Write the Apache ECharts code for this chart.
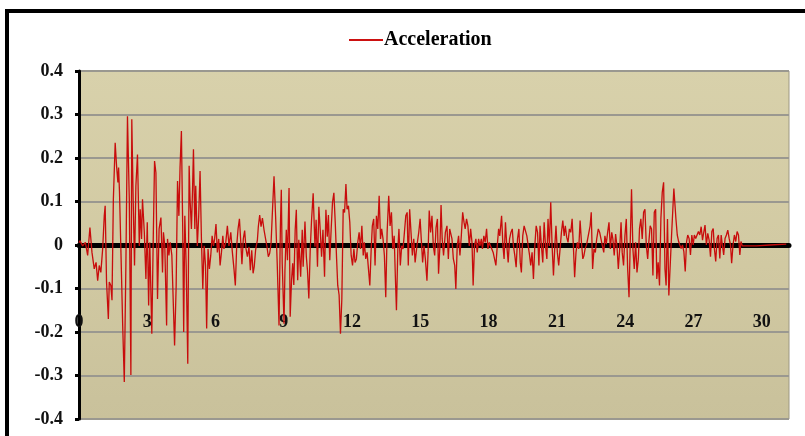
<!DOCTYPE html>
<html>
<head>
<meta charset="utf-8">
<script src="https://cdn.jsdelivr.net/npm/echarts@6/dist/echarts.min.js"></script>
<style>
html,body{margin:0;padding:0;background:#fff;overflow:hidden;}
#chart{width:805px;height:436px;}
</style>
</head>
<body>
<div id="chart"></div>
<script>
// Time (s) of each sampled point
const TIME = [
0.00,0.04,0.16,0.28,0.38,0.48,0.57,0.67,0.75,0.82,0.89,0.96,1.04,1.11,1.15,1.21,1.29,1.33,1.40,1.45,
1.51,1.59,1.65,1.71,1.74,1.78,1.84,1.92,1.99,2.06,2.13,2.21,2.28,2.32,2.38,2.44,2.50,2.57,2.65,2.69,
2.75,2.79,2.87,2.94,3.00,3.06,3.11,3.20,3.26,3.32,3.38,3.45,3.52,3.60,
3.67,3.71,3.77,3.85,3.89,3.95,4.01,4.08,4.12,4.20,4.27,4.33,4.39,4.44,4.50,4.56,4.60,4.65,4.71,4.78,
4.84,4.88,4.94,4.99,5.03,5.09,5.13,5.20,5.26,5.32,5.38,5.44,5.50,5.56,5.61,5.67,5.73,5.79,5.85,5.91,
5.96,6.02,6.08,6.14,6.20,6.26,6.32,6.37,6.45,6.52,6.59,6.67,6.74,6.81,6.87,6.93,6.99,7.05,7.11,7.16,
7.22,7.28,7.34,
7.40,7.47,7.53,7.59,7.65,7.70,7.76,7.84,7.88,7.94,8.00,8.06,8.13,8.20,8.26,8.32,8.38,8.44,8.49,8.57,
8.64,8.71,8.79,8.85,8.89,8.93,9.01,9.05,9.11,9.16,9.23,9.28,9.34,9.39,9.44,9.50,9.55,9.61,9.66,9.74,
9.81,9.85,9.93,9.99,10.04,10.10,10.16,10.22,10.29,10.37,10.42,10.48,10.54,10.60,10.66,10.72,10.79,10.85,10.91,10.96,
11.02,11.08,11.14,11.20,
11.26,11.32,11.37,11.43,11.49,11.55,11.61,11.67,11.73,11.78,11.84,11.90,11.96,12.02,12.08,12.13,12.19,12.25,12.31,12.37,
12.43,12.49,12.54,12.60,12.66,12.72,12.78,12.84,12.89,12.95,13.01,13.07,13.13,13.19,13.25,13.30,13.36,13.42,13.48,13.54,
13.61,13.67,13.73,13.79,13.85,13.90,13.95,14.01,14.06,14.12,14.18,14.24,14.30,14.36,14.42,14.47,14.53,14.59,14.65,14.71,
14.77,
14.85,14.93,14.99,15.04,15.10,15.16,15.22,15.29,15.34,15.39,15.45,15.51,15.57,15.63,15.69,15.75,15.80,15.86,15.91,15.96,
16.02,16.10,16.17,16.23,16.29,16.35,16.39,16.45,16.51,16.56,16.62,16.68,16.74,16.80,16.86,16.92,16.97,17.03,17.09,17.15,
17.21,17.27,17.32,17.38,17.44,17.50,17.56,17.62,17.68,17.73,17.79,17.85,17.91,17.97,18.03,18.08,18.14,18.20,18.26,18.32,
18.38,18.44,18.49,
18.57,18.63,18.68,18.74,18.80,18.86,18.92,18.98,19.04,19.09,19.15,19.21,19.27,19.33,19.39,19.44,19.50,19.56,19.62,19.68,
19.74,19.80,19.85,19.91,19.97,20.03,20.09,20.15,20.21,20.26,20.32,20.38,20.44,20.50,20.56,20.61,20.67,20.73,20.79,20.85,
20.91,20.96,21.02,21.08,21.14,21.20,21.26,21.32,21.37,21.43,21.49,21.55,21.61,21.67,21.73,21.78,21.84,21.90,21.96,22.02,
22.08,22.14,22.19,
22.24,22.31,22.38,22.46,22.51,22.57,22.63,22.69,22.75,22.82,22.88,22.94,23.00,23.06,23.11,23.17,23.23,23.29,23.35,23.41,
23.46,23.52,23.58,23.64,23.70,23.76,23.82,23.87,23.93,23.99,24.05,24.11,24.17,24.22,24.28,24.34,24.40,24.46,24.52,24.58,
24.63,24.69,24.75,24.81,24.87,24.93,24.99,25.04,25.10,25.16,25.22,25.28,25.34,25.39,25.45,25.51,25.57,25.63,25.69,25.75,
25.80,25.86,25.92,
26.04,26.14,26.23,26.29,26.35,26.40,26.46,26.52,26.58,26.64,26.70,26.75,26.81,26.87,26.93,26.99,27.04,27.10,27.16,27.22,
27.28,27.34,27.40,27.46,27.51,27.57,27.63,27.69,27.75,27.81,27.87,27.92,27.98,28.04,28.10,28.16,28.22,28.27,28.33,28.39,
28.45,28.51,28.57,28.63,28.68,28.74,28.80,28.86,28.92,28.98,29.04,29.09,29.15,29.77,30.35,31.08
];
// Acceleration (g) at each time above
const ACCEL = [
0.005,0.010,-0.002,0.006,-0.024,0.040,-0.017,-0.055,-0.040,-0.082,-0.047,-0.063,-0.009,0.067,0.090,-0.085,-0.170,-0.085,-0.093,-0.127,
0.105,0.235,0.182,0.144,0.178,0.121,-0.009,-0.185,-0.315,-0.047,0.296,0.105,-0.299,0.289,0.105,-0.047,0.136,0.208,-0.002,0.082,
0.014,0.105,0.029,-0.078,0.052,-0.139,0.006,-0.204,0.006,0.193,0.166,-0.124,0.037,0.063,
-0.063,0.029,-0.002,-0.185,0.014,-0.024,0.006,-0.024,-0.093,-0.231,-0.093,0.147,0.067,0.178,0.262,0.029,-0.200,0.067,-0.047,-0.273,
0.182,0.105,0.037,0.128,0.220,0.037,0.136,-0.002,0.067,0.170,0.014,-0.101,-0.002,-0.047,-0.192,-0.009,-0.055,-0.024,0.021,-0.002,
0.014,0.048,-0.017,0.014,-0.047,-0.017,0.021,-0.009,0.006,0.044,-0.002,0.029,-0.017,-0.055,-0.093,-0.002,0.037,0.060,0.006,-0.044,
0.014,0.033,-0.009,
-0.027,-0.004,-0.058,-0.012,-0.065,-0.050,-0.012,0.012,0.042,0.069,0.042,0.062,0.035,0.035,-0.004,-0.027,-0.019,0.004,0.065,0.158,
0.065,-0.042,-0.185,0.042,0.127,-0.042,-0.181,-0.058,0.035,-0.035,0.131,-0.165,-0.081,-0.042,-0.092,0.035,0.081,-0.081,0.012,-0.073,
0.035,-0.050,0.054,-0.027,-0.058,-0.123,-0.012,0.058,0.119,-0.004,0.058,-0.050,0.088,0.035,-0.027,0.035,-0.073,0.081,0.019,0.069,
-0.035,0.035,0.098,0.120,
0.052,-0.032,-0.093,-0.115,-0.204,-0.124,0.082,0.075,0.140,0.082,0.090,0.052,-0.024,-0.047,-0.009,-0.040,-0.032,0.006,0.029,-0.009,
0.044,-0.024,0.006,-0.032,-0.017,-0.055,-0.093,-0.009,0.044,0.060,-0.047,0.067,0.037,0.113,0.014,0.037,0.014,-0.024,-0.120,0.029,
0.113,0.044,0.075,-0.009,0.021,-0.070,-0.150,-0.009,0.037,-0.047,-0.002,-0.009,0.029,0.067,0.075,-0.047,0.082,0.029,-0.024,0.014,
-0.040,
-0.002,0.029,0.060,0.014,-0.040,-0.002,-0.032,-0.082,-0.017,0.079,0.029,0.067,-0.002,-0.024,0.040,0.060,-0.066,-0.002,0.092,0.014,
-0.024,0.029,0.044,-0.032,0.037,0.037,0.014,-0.032,-0.047,-0.101,-0.002,0.021,-0.024,0.021,0.075,0.052,0.037,0.060,0.044,-0.002,
0.037,0.006,-0.093,-0.002,0.014,-0.017,0.014,-0.002,0.014,-0.009,0.021,0.006,0.037,-0.009,0.006,-0.002,-0.009,-0.017,-0.032,-0.047,
-0.002,0.037,0.021,
0.067,-0.002,-0.032,0.052,-0.002,-0.040,0.014,0.029,0.037,-0.002,-0.024,-0.051,0.014,0.037,-0.040,-0.063,0.021,0.044,0.048,0.021,
-0.002,-0.024,-0.047,-0.017,-0.078,-0.002,0.044,0.029,-0.047,0.044,-0.002,-0.040,0.052,-0.002,-0.032,0.060,-0.002,0.098,-0.002,-0.070,
-0.002,0.044,-0.017,-0.047,-0.009,0.029,0.056,0.021,0.044,0.018,0.006,0.037,0.029,0.060,-0.009,-0.074,-0.017,0.006,-0.009,0.056,
0.006,-0.032,-0.024,
-0.009,0.002,-0.002,0.044,0.075,-0.055,-0.009,-0.017,0.014,0.037,0.029,0.033,-0.002,-0.017,0.021,0.002,0.029,0.052,-0.009,0.029,
0.014,-0.024,0.025,-0.002,-0.055,-0.009,0.052,-0.017,-0.047,0.021,0.060,-0.055,-0.120,-0.002,0.128,-0.009,-0.055,0.006,-0.063,-0.032,
0.037,0.060,0.014,0.075,0.082,-0.002,-0.032,0.006,0.044,0.037,-0.070,0.075,0.082,-0.078,-0.040,-0.093,0.060,0.121,0.144,-0.055,
-0.093,0.060,-0.116,
0.023,0.130,0.061,0.023,0.008,0.000,-0.008,0.000,-0.015,-0.061,0.008,0.023,0.015,-0.023,0.023,0.000,0.023,0.015,0.011,0.031,
0.023,0.042,0.011,0.031,0.046,0.000,0.027,0.011,-0.027,0.031,0.038,-0.008,-0.038,0.015,0.023,-0.031,0.023,0.000,-0.023,0.015,
0.023,0.034,0.015,0.000,-0.042,0.000,0.023,0.008,0.031,0.023,-0.023,0.008,-0.002,-0.002,0.000,0.002
];
const X_TICKS = [0, 3, 6, 9, 12, 15, 18, 21, 24, 27, 30];
const Y_TICKS = [-0.4, -0.3, -0.2, -0.1, 0, 0.1, 0.2, 0.3, 0.4];
const SERIES_NAME = 'Acceleration';

const chart = echarts.init(document.getElementById('chart'), null, {renderer: 'canvas'});
const data = TIME.map((t, i) => [t, ACCEL[i]]);
const FONT = '"Liberation Serif", "Times New Roman", serif';

// plot area box (pixels)
const PL = 79, PT = 71, PR = 789, PB = 419;
const bev = 12;

chart.setOption({
  animation: false,
  backgroundColor: '#ffffff',
  graphic: [
    {type: 'rect', z: -10, shape: {x: 7, y: 11, width: 900, height: 600},
     style: {fill: 'none', stroke: '#000', lineWidth: 4}},
    {type: 'polygon', z: -5, silent: true, shape: {points: [[PL,PT],[PR,PT],[PR-bev,PT+bev],[PL+bev,PT+bev]]},
     style: {fill: 'rgba(255,252,225,0.45)'}},
    {type: 'polygon', z: -5, silent: true, shape: {points: [[PL,PT],[PL+bev,PT+bev],[PL+bev,PB-bev],[PL,PB]]},
     style: {fill: 'rgba(255,252,225,0.30)'}},
    {type: 'polygon', z: -5, silent: true, shape: {points: [[PL,PB],[PL+bev,PB-bev],[PR-bev,PB-bev],[PR,PB]]},
     style: {fill: 'rgba(120,110,70,0.22)'}},
    {type: 'polygon', z: -5, silent: true, shape: {points: [[PR,PT],[PR,PB],[PR-bev,PB-bev],[PR-bev,PT+bev]]},
     style: {fill: 'rgba(120,110,70,0.14)'}}
  ],
  legend: {
    show: true,
    left: 344, top: 25,
    itemWidth: 34, itemHeight: 12, itemGap: 10,
    icon: 'path://M0,5 L34,5 L34,7 L0,7 Z',
    textStyle: {fontFamily: FONT, fontWeight: 'bold', fontSize: 20, color: '#000', padding: [0,0,0,-4]},
    data: [{name: SERIES_NAME, itemStyle: {color: '#cc1111'}}]
  },
  grid: {
    left: PL, top: PT, right: 805 - PR, bottom: 436 - PB,
    outerBoundsMode: 'none',
    show: true,
    backgroundColor: {type: 'linear', x: 0, y: 0, x2: 0, y2: 1,
      colorStops: [{offset: 0, color: '#d8d1ab'}, {offset: 0.5, color: '#d2caa3'}, {offset: 1, color: '#c9c19b'}]},
    borderColor: '#9d9883', borderWidth: 1,
    containLabel: false
  },
  xAxis: {
    type: 'value',
    min: 0, max: 31.2, interval: 3,
    axisLine: {show: true, onZero: true, lineStyle: {color: '#000', width: 5}},
    axisTick: {show: false},
    splitLine: {show: false},
    axisLabel: {
      show: true, margin: -106, showMaxLabel: false,
      fontFamily: FONT, fontWeight: 'bold', fontSize: 18, color: '#111',
      formatter: v => X_TICKS.indexOf(v) >= 0 ? String(v) : ''
    }
  },
  yAxis: {
    type: 'value',
    min: -0.4, max: 0.4, interval: 0.1,
    axisLine: {show: true, onZero: false, lineStyle: {color: '#000', width: 3}},
    axisTick: {show: true, inside: false, length: 4, lineStyle: {color: '#000', width: 3}},
    splitLine: {show: true, lineStyle: {color: '#9a9890', width: 2}},
    axisLabel: {
      margin: 16,
      fontFamily: FONT, fontWeight: 'bold', fontSize: 18, color: '#111',
      formatter: v => {
        const r = Math.round(v * 10) / 10;
        const found = Y_TICKS.find(t => Math.abs(t - r) < 1e-9);
        return found === 0 ? '0' : String(found);
      }
    }
  },
  series: [{
    name: SERIES_NAME,
    type: 'line',
    data: data,
    symbol: 'none',
    showSymbol: false,
    smooth: false,
    z: 3,
    lineStyle: {color: '#c80c0c', width: 1.3},
    itemStyle: {color: '#c80c0c'}
  }]
});
</script>
</body>
</html>
